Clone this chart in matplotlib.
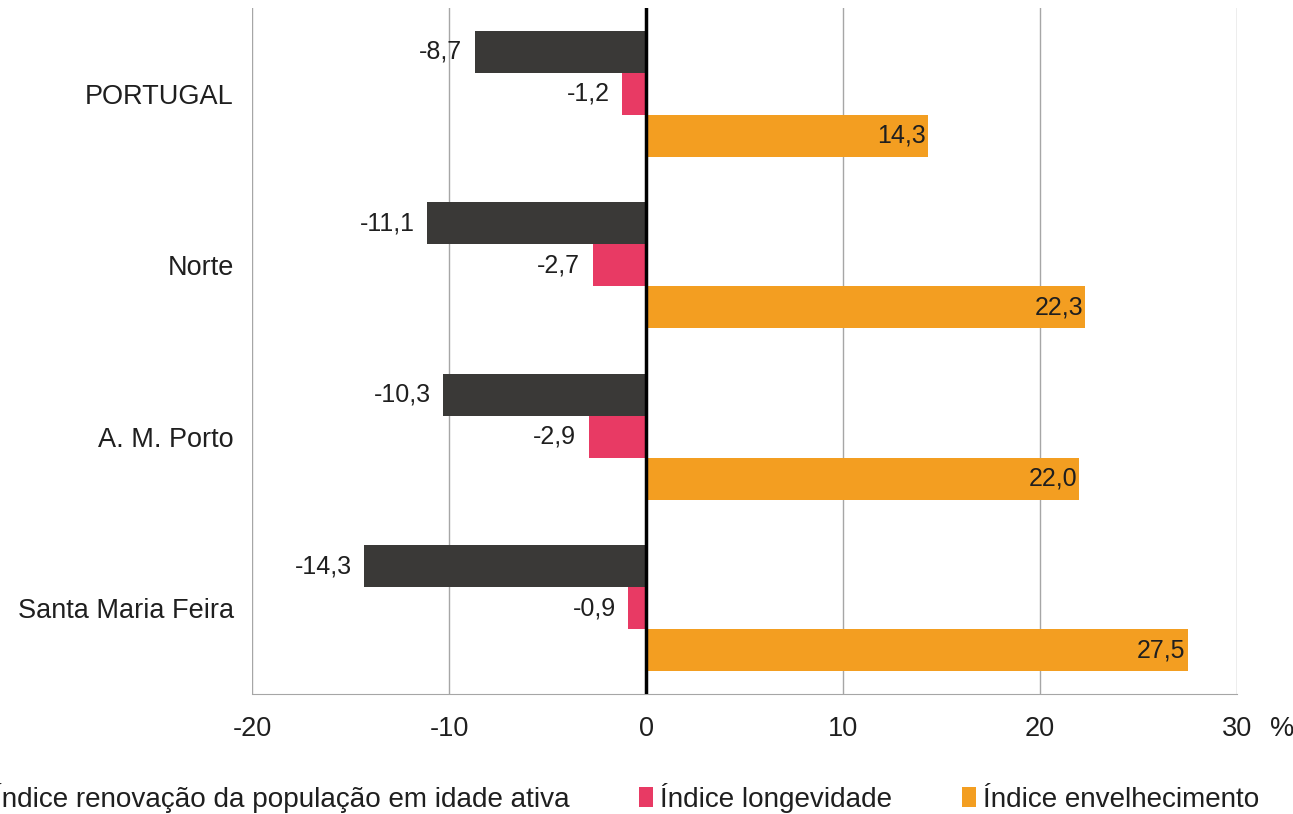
import numpy as np
import matplotlib.pyplot as plt

# Dados
regioes = ['PORTUGAL', 'Norte', 'A. M. Porto', 'Santa Maria Feira']
renovacao = [-8.7, -11.1, -10.3, -14.3]
longevidade = [-1.2, -2.7, -2.9, -0.9]
envelhecimento = [14.3, 22.3, 22.0, 27.5]

series = [
    ('Índice renovação da população em idade ativa', renovacao, '#3a3937'),
    ('Índice longevidade', longevidade, '#e83a64'),
    ('Índice envelhecimento', envelhecimento, '#f39e21'),
]

plt.rcParams['font.family'] = ['Liberation Sans', 'DejaVu Sans']
txtcor = '#1f1f1f'

fig = plt.figure(figsize=(12.93, 8.14), dpi=100)
ax = fig.add_axes([252 / 1293, 1 - 694 / 814, 985 / 1293, 686 / 814])

y = np.arange(len(regioes))
h = 0.245
for i, (nome, vals, cor) in enumerate(series):
    pos = y + (i - 1) * h
    bars = ax.barh(pos, vals, height=h, color=cor, label=nome, zorder=3)
    for b, v in zip(bars, vals):
        txt = f'{v:.1f}'.replace('.', ',')
        yc = b.get_y() + b.get_height() / 2
        dx = -9 if v < 0 else -1.5
        ax.annotate(txt, (v, yc), xytext=(dx, 0), textcoords='offset points',
                    ha='right', va='center', fontsize=18, color=txtcor)

ax.set_xlim(-20, 30)
ax.set_ylim(len(regioes) - 0.5, -0.5)
ax.set_yticks(y)
ax.set_yticklabels(regioes, fontsize=19.5, color=txtcor)
ax.set_xticks([-20, -10, 0, 10, 20, 30])
ax.set_xticklabels(['-20', '-10', '0', '10', '20', '30'], fontsize=19.5, color=txtcor)
ax.tick_params(axis='x', length=0, pad=16)
ax.tick_params(axis='y', length=0, pad=13)
ax.grid(axis='x', color='#a6a6a6', linewidth=1, zorder=0)
ax.axvline(0, color='black', linewidth=2.5, zorder=4)
for s in ['top', 'right', 'left']:
    ax.spines[s].set_visible(False)
ax.spines['bottom'].set_color('#a6a6a6')

fig.text(1270 / 1293, 1 - 729 / 814, '%', fontsize=19.5, ha='left', va='center', color=txtcor)

# legenda: como no original, começa cortada na margem esquerda
fig.legend(loc='center left', bbox_to_anchor=(-27 / 1293, 1 - 798 / 814), ncol=3,
           frameon=False, fontsize=20.1, handlelength=0.5, handleheight=0.7,
           handletextpad=0.25, columnspacing=2.5, borderpad=0, borderaxespad=0,
           labelcolor=txtcor)

fig.savefig('out.png', dpi=100)
